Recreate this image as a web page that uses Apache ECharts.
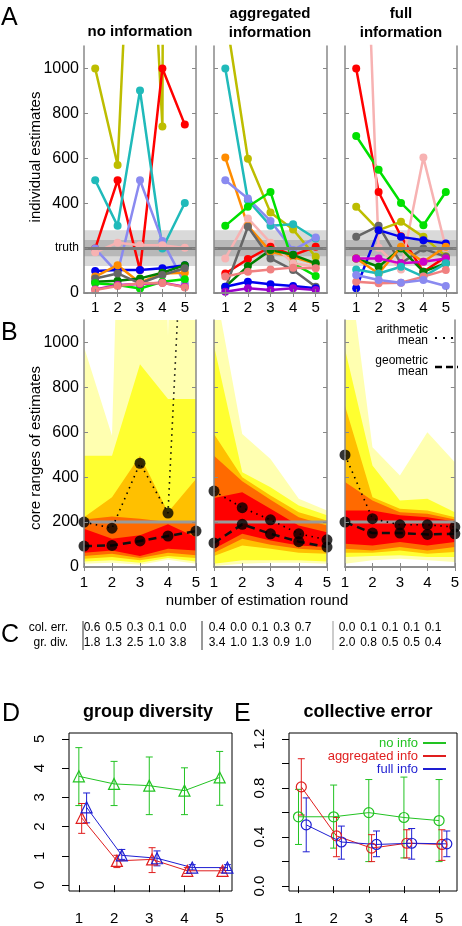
<!DOCTYPE html>
<html><head><meta charset="utf-8">
<script src="https://cdn.jsdelivr.net/npm/echarts@6/dist/echarts.min.js"></script>
<style>html,body{margin:0;padding:0;background:#fff}#c{width:462px;height:926px}</style>
</head><body><div id="c"></div><script>
// ---------------- DATA ----------------
const rounds = [1, 2, 3, 4, 5];
const truthValue = 200;
const truthBandOuter = [120, 280];
const truthBandInner = [164, 236];
const yTicksAB = [0, 200, 400, 600, 800, 1000];
const panelTitles = ['no information', 'aggregated\ninformation', 'full\ninformation'];

// Panel A: individual estimates per round
const estNoInfo = [
  [1000, 570, 2700, 742, 30000],
  [198, 502, 102, 1000, 750],
  [502, 299, 902, 198, 401],
  [198, 90, 502, 232, 43],
  [181, 224, 213, 213, 201],
  [98, 102, 102, 110, 124],
  [73, 124, 46, 87, 90],
  [50, 55, 65, 90, 124],
  [65, 87, 43, 80, 110],
  [43, 36, 20, 50, 61],
  [16, 36, 40, 46, 28],
  [13, 31, 43, 45, 25]
];
const estAggInfo = [
  [1250, 598, 358, 283, 161],
  [1000, 413, 299, 306, 243],
  [603, 299, 184, 160, 130],
  [502, 421, 321, 191, 247],
  [299, 384, 450, 132, 76],
  [154, 332, 224, 132, 117],
  [87, 151, 206, 169, 206],
  [28, 120, 191, 170, 132],
  [21, 295, 154, 102, 28],
  [73, 95, 105, 113, 110],
  [28, 50, 39, 31, 21],
  [6, 21, 13, 21, 13]
];
const estFullInfo = [
  [1000, 450, 253, 95, 161],
  [699, 549, 401, 302, 450],
  [2900, 201, 105, 603, 201],
  [384, 280, 317, 250, 164],
  [250, 299, 132, 198, 161],
  [21, 280, 250, 235, 221],
  [154, 117, 198, 95, 132],
  [154, 87, 206, 139, 206],
  [154, 154, 132, 139, 154],
  [105, 87, 117, 73, 132],
  [50, 43, 46, 73, 102],
  [80, 58, 46, 58, 31]
];

// Panel B: core ranges (outermost -> innermost), upper and lower bounds
const upperNo = [
  [980, 585, 5000, 1030, 5000],
  [496, 496, 903, 748, 748],
  [222, 311, 496, 244, 392],
  [212, 225, 215, 200, 200],
  [170, 126, 141, 190, 133]
];
const lowerNo = [
  [15, 19, 10, 32, 15],
  [25, 30, 19, 40, 25],
  [37, 44, 30, 49, 40],
  [49, 59, 40, 64, 52],
  [64, 74, 49, 81, 74]
];
const upperAgg = [
  [1275, 592, 481, 304, 252],
  [985, 422, 355, 274, 230],
  [592, 400, 318, 244, 207],
  [496, 382, 300, 222, 185],
  [307, 333, 259, 185, 155]
];
const lowerAgg = [
  [5, 15, 19, 19, 15],
  [15, 30, 30, 30, 25],
  [49, 96, 81, 64, 59],
  [64, 126, 99, 81, 74],
  [81, 148, 118, 96, 89]
];
const upperFull = [
  [1480, 533, 407, 600, 467],
  [970, 452, 296, 304, 244],
  [718, 311, 259, 252, 222],
  [378, 296, 244, 237, 212],
  [252, 252, 230, 222, 203]
];
const lowerFull = [
  [15, 30, 37, 30, 22],
  [44, 49, 52, 44, 44],
  [64, 64, 74, 59, 67],
  [81, 74, 89, 74, 89],
  [104, 96, 111, 96, 111]
];
const arithNo = [200, 173, 462, 240, 2800];
const geomNo = [93, 96, 116, 138, 160];
const arithAgg = [338, 264, 210, 148, 121];
const geomAgg = [107, 190, 148, 113, 89];
const arithFull = [499, 215, 188, 188, 178];
const geomFull = [200, 151, 151, 145, 148];

// Panel C
const colErr = ['0.6','0.5','0.3','0.1','0.0','0.4','0.0','0.1','0.3','0.7','0.0','0.1','0.1','0.1','0.1'];
const grDiv  = ['1.8','1.3','2.5','1.0','3.8','3.4','1.0','1.3','0.9','1.0','2.0','0.8','0.5','0.5','0.4'];

// Panel D: group diversity (mean, low, high)
const divNo = [3.72, 3.46, 3.40, 3.23, 3.68];
const divNoLo = [2.72, 2.72, 2.41, 2.41, 2.73];
const divNoHi = [4.70, 4.23, 4.38, 4.01, 4.57];
const divAgg = [2.30, 0.83, 0.88, 0.49, 0.49];
const divAggLo = [1.77, 0.60, 0.43, 0.40, 0.42];
const divAggHi = [2.79, 1.02, 1.28, 0.60, 0.58];
const divFull = [2.66, 1.02, 0.92, 0.60, 0.60];
const divFullLo = [2.13, 0.88, 0.66, 0.52, 0.50];
const divFullHi = [3.15, 1.22, 1.17, 0.70, 0.70];
const divTicks = [0, 1, 2, 3, 4, 5];

// Panel E: collective error
const errNo = [0.566, 0.566, 0.60, 0.56, 0.535];
const errNoLo = [0.34, 0.31, 0.20, 0.23, 0.20];
const errNoHi = [0.79, 0.825, 0.87, 0.89, 0.87];
const errAgg = [0.81, 0.41, 0.31, 0.35, 0.34];
const errAggLo = [0.58, 0.24, 0.20, 0.23, 0.21];
const errAggHi = [1.04, 0.56, 0.42, 0.46, 0.46];
const errFull = [0.50, 0.36, 0.34, 0.35, 0.345];
const errFullLo = [0.28, 0.22, 0.24, 0.22, 0.24];
const errFullHi = [0.72, 0.49, 0.45, 0.47, 0.45];
const errTicks = [0, 0.2, 0.4, 0.6, 0.8, 1.0, 1.2];
const errLabels = [0, 0.4, 0.8, 1.2];
const legendE = ['no info', 'aggregated info', 'full info'];

// ---------------- STYLE ----------------
const FONT = '"Liberation Sans", Arial, Helvetica, sans-serif';
const colsNo = ['#BDBD00','#FF0000','#20BABA','#8A8AF0','#F7B2B2','#0000F0','#FF8C00','#007F00','#666666','#00E000','#CC00CC','#F08080'];
const colsAgg = ['#BDBD00','#20BABA','#FF8C00','#8A8AF0','#00E000','#F7B2B2','#FF0000','#007F00','#666666','#F08080','#0000F0','#9900CC'];
const colsFull = ['#FF0000','#00E000','#F7B2B2','#BDBD00','#666666','#0000F0','#007F00','#FF8C00','#CC00CC','#20BABA','#F08080','#8A8AF0'];
const bandCols = ['#FFFFB0','#FFFF30','#FFC000','#FF6A00','#FF0000'];
const cGreen = '#22C322', cRed = '#E01E1E', cBlue = '#1E1ED2';
const AX = '#888';
const yMaxAB = 1100;

const grids = [
  {left:84, top:46, width:112, height:247},
  {left:214, top:46, width:113, height:247},
  {left:345, top:46, width:112, height:247},
  {left:84, top:320, width:112, height:247},
  {left:214, top:320, width:113, height:247},
  {left:345, top:320, width:112, height:247},
  {left:69, top:733, width:163, height:159},
  {left:289, top:733, width:168, height:158}
];

const xAxes = [], yAxes = [];
for (let g = 0; g < 6; g++) {
  const isA = g < 3;
  const xmin = isA ? 0.5 : 1, xmax = isA ? 5.5 : 5;
  const base = {gridIndex:g, type:'value', min:xmin, max:xmax, z:10,
    axisLine:{show:true, lineStyle:{color:AX, width:1.5}},
    axisTick:{show:true, inside:true, length:4, lineStyle:{color:AX}, customValues:rounds},
    splitLine:{show:false}};
  xAxes.push(Object.assign({}, base, {position:'bottom',
    axisLabel:{show:true, customValues:rounds, fontSize:15, color:'#000', fontFamily:FONT, margin:isA?7:8}}));
  xAxes.push(Object.assign({}, base, {position:'top', axisLabel:{show:false}}));
  const ybase = {gridIndex:g, type:'value', min:0, max:yMaxAB, z:10,
    axisLine:{show:true, lineStyle:{color:AX, width:1.5}},
    axisTick:{show:true, inside:true, length:4, lineStyle:{color:AX}, customValues:yTicksAB},
    splitLine:{show:false}};
  const showLab = (g === 0 || g === 3);
  yAxes.push(Object.assign({}, ybase, {position:'left',
    axisLabel:{show:showLab, customValues:yTicksAB, fontSize:16, color:'#000', fontFamily:FONT, margin:5,
      formatter: v => (isA && v === truthValue) ? '{t|truth}' : String(v),
      rich:{t:{fontSize:12, fontFamily:FONT, color:'#000'}}}}));
  yAxes.push(Object.assign({}, ybase, {position:'right', axisLabel:{show:false}}));
}
// D and E axes (R style: outward ticks)
[[6, 0.72, 5.35, -0.2, 5.2, divTicks, divTicks, v => String(v)],
 [7, 0.73, 5.51, -0.04, 1.25, errTicks, errLabels, v => v.toFixed(1)]].forEach(([g, x0, x1, y0, y1, yt, yl, fmt]) => {
  xAxes.push({gridIndex:g, type:'value', min:x0, max:x1, position:'bottom',
    axisLine:{show:false},
    axisTick:{show:true, inside:false, length:7, lineStyle:{color:'#000'}, customValues:rounds},
    axisLabel:{show:true, customValues:rounds, fontSize:15, color:'#000', fontFamily:FONT, margin:20},
    splitLine:{show:false}});
  yAxes.push({gridIndex:g, type:'value', min:y0, max:y1, position:'left',
    axisLine:{show:false},
    axisTick:{show:true, inside:false, length:7, lineStyle:{color:'#000'}, customValues:yt},
    axisLabel:{show:true, customValues:yl, rotate:90, fontSize:15, color:'#000', fontFamily:FONT, margin:22, formatter:fmt},
    splitLine:{show:false}});
});

const series = [];
// ---- Panel A ----
[[estNoInfo, colsNo], [estAggInfo, colsAgg], [estFullInfo, colsFull]].forEach(([est, cols], g) => {
  series.push({type:'line', xAxisIndex:2*g, yAxisIndex:2*g, data:[], silent:true, z:1,
    markArea:{silent:true, data:[
      [{yAxis:truthBandOuter[0], itemStyle:{color:'#D9D9D9'}}, {yAxis:truthBandOuter[1]}],
      [{yAxis:truthBandInner[0], itemStyle:{color:'#B8B8B8'}}, {yAxis:truthBandInner[1]}]
    ]},
    markLine:{silent:true, symbol:'none', label:{show:false}, lineStyle:{color:'#7A7A7A', width:3, type:'solid'},
      data:[{yAxis:truthValue}]}});
  est.forEach((vals, k) => {
    series.push({type:'line', xAxisIndex:2*g, yAxisIndex:2*g, silent:true, z:3,
      data: rounds.map((r, i) => [r, vals[i]]),
      symbol:'circle', symbolSize:8, showSymbol:true,
      lineStyle:{width:2.5, color:cols[k]}, itemStyle:{color:cols[k]}});
  });
});

// ---- Panel B ----
function areaS(vals, color, ax) {
  return {type:'line', xAxisIndex:ax, yAxisIndex:ax, silent:true, z:2, showSymbol:false, symbol:'none',
    data: rounds.map((r, i) => [r, vals[i]]),
    lineStyle:{width:0, opacity:0}, areaStyle:{color:color, opacity:1, origin:'start'}};
}
[[upperNo, lowerNo, arithNo, geomNo], [upperAgg, lowerAgg, arithAgg, geomAgg], [upperFull, lowerFull, arithFull, geomFull]]
.forEach(([up, lo, ar, ge], j) => {
  const ax = 2 * (3 + j);
  up.forEach((v, k) => series.push(areaS(v, bandCols[k], ax)));
  for (let k = lo.length - 1; k >= 0; k--) series.push(areaS(lo[k], k > 0 ? bandCols[k - 1] : '#FFFFFF', ax));
  series.push({type:'line', xAxisIndex:ax, yAxisIndex:ax, silent:true, z:3, symbol:'none',
    data: rounds.map(r => [r, truthValue]), lineStyle:{color:'#9A9A9A', width:3}});
  series.push({type:'line', xAxisIndex:ax, yAxisIndex:ax, silent:true, z:4, symbol:'none',
    data: rounds.map((r, i) => [r, ar[i]]), lineStyle:{color:'#000', width:1.6, type:[1.5, 4.5]}});
  series.push({type:'line', xAxisIndex:ax, yAxisIndex:ax, silent:true, z:4, symbol:'none',
    data: rounds.map((r, i) => [r, ge[i]]), lineStyle:{color:'#111', width:2.5, type:[8, 5]}});
  series.push({type:'scatter', xAxisIndex:ax, yAxisIndex:ax, silent:true, z:5, clip:false, symbolSize:11,
    itemStyle:{color:'#000'},
    data: rounds.map((r, i) => [r, ar[i]]).concat(rounds.map((r, i) => [r, ge[i]])).filter(p => p[1] <= yMaxAB)});
});

// ---- Panels D & E ----
function errSeries(vals, lo, hi, color, ax, off) {
  return {type:'custom', xAxisIndex:ax, yAxisIndex:ax, silent:true, z:3,
    data: rounds.map((r, i) => [r + off, lo[i], hi[i]]), encode:{x:0, y:[1, 2]},
    renderItem: (params, api) => {
      const x = api.value(0);
      const a = api.coord([x, api.value(1)]), b = api.coord([x, api.value(2)]);
      const w = 3.5, st = {stroke:color, lineWidth:1};
      return {type:'group', children:[
        {type:'line', shape:{x1:a[0], y1:a[1], x2:b[0], y2:b[1]}, style:st},
        {type:'line', shape:{x1:a[0]-w, y1:a[1], x2:a[0]+w, y2:a[1]}, style:st},
        {type:'line', shape:{x1:b[0]-w, y1:b[1], x2:b[0]+w, y2:b[1]}, style:st}]};
    }};
}
function ptSeries(vals, color, ax, off, sym, size) {
  return {type:'line', xAxisIndex:ax, yAxisIndex:ax, silent:true, z:4,
    data: rounds.map((r, i) => [r + off, vals[i]]), symbol:sym, symbolSize:size, showSymbol:true,
    lineStyle:{color:color, width:1}, itemStyle:{color:'rgba(255,255,255,0)', borderColor:color, borderWidth:1.2}};
}
const offs = [0, 0.08, 0.22];
[[divNo, divNoLo, divNoHi, cGreen], [divAgg, divAggLo, divAggHi, cRed], [divFull, divFullLo, divFullHi, cBlue]]
.forEach(([v, lo, hi, c], k) => {
  series.push(errSeries(v, lo, hi, c, 12, offs[k]));
  series.push(ptSeries(v, c, 12, offs[k], 'triangle', 11));
});
[[errNo, errNoLo, errNoHi, cGreen], [errAgg, errAggLo, errAggHi, cRed], [errFull, errFullLo, errFullHi, cBlue]]
.forEach(([v, lo, hi, c], k) => {
  series.push(errSeries(v, lo, hi, c, 13, offs[k]));
  series.push(ptSeries(v, c, 13, offs[k], 'circle', 10));
});

// ---------------- TEXT ----------------
function txt(text, x, y, size, o) {
  o = o || {};
  return {type:'text', x:x, y:y, rotation:o.rot || 0, z:100, silent:true,
    style:{text:text, fontSize:size, fontFamily:FONT, fontWeight:o.bold ? 'bold' : 'normal', fill:o.color || '#000',
      align:o.align || 'center', verticalAlign:o.va || 'middle', lineHeight:o.lh || Math.round(size * 1.25)}};
}
const graphics = [];
graphics.push(txt('A', 1, 18, 25, {align:'left'}));
graphics.push(txt('B', 1, 333, 25, {align:'left'}));
graphics.push(txt('C', 1, 635, 25, {align:'left'}));
graphics.push(txt('D', 2, 714, 25, {align:'left'}));
graphics.push(txt('E', 234, 714, 25, {align:'left'}));
graphics.push(txt(panelTitles[0], 140, 32, 15, {bold:true}));
graphics.push(txt(panelTitles[1], 270, 23, 15, {bold:true, lh:19}));
graphics.push(txt(panelTitles[2], 401, 23, 15, {bold:true, lh:19}));
graphics.push(txt('individual estimates', 36, 157, 15, {rot:Math.PI/2}));
graphics.push(txt('core ranges of estimates', 36, 448, 15, {rot:Math.PI/2}));
graphics.push(txt('number of estimation round', 257, 601, 15));
graphics.push(txt('group diversity', 148, 712, 18, {bold:true}));
graphics.push(txt('collective error', 368, 712, 18, {bold:true}));
// B legend
graphics.push(txt('arithmetic\nmean', 428, 335, 12, {align:'right', lh:11}));
graphics.push(txt('geometric\nmean', 428, 366, 12, {align:'right', lh:11}));
graphics.push({type:'line', z:100, silent:true, shape:{x1:435, y1:338, x2:458, y2:338}, style:{stroke:'#000', lineWidth:2, lineDash:[2, 6]}});
graphics.push({type:'line', z:100, silent:true, shape:{x1:435, y1:367, x2:458, y2:367}, style:{stroke:'#000', lineWidth:2.5, lineDash:[7, 4]}});
// C table
graphics.push(txt('col. err.', 68, 628, 12, {align:'right'}));
graphics.push(txt('gr. div.', 68, 643, 12, {align:'right'}));
const groupStart = [92, 217, 347];
colErr.forEach((t, i) => {
  const x = groupStart[Math.floor(i / 5)] + (i % 5) * 21.5;
  graphics.push(txt(t, x, 628, 12));
  graphics.push(txt(grDiv[i], x, 643, 12));
});
[[83, '#333'], [202, '#333'], [333, '#999']].forEach(([x, c]) => {
  graphics.push({type:'line', z:100, silent:true, shape:{x1:x, y1:621, x2:x, y2:650}, style:{stroke:c, lineWidth:1}});
});
// E legend
[[cGreen, 743], [cRed, 756], [cBlue, 769]].forEach(([c, y], k) => {
  graphics.push(txt(legendE[k], 418, y, 13, {align:'right', color:c}));
  graphics.push({type:'line', z:100, silent:true, shape:{x1:423, y1:y, x2:446, y2:y}, style:{stroke:c, lineWidth:2}});
});

const chart = echarts.init(document.getElementById('c'), null, {renderer:'canvas'});
chart.setOption({
  animation:false,
  backgroundColor:'#fff',
  grid: grids.map((g, i) => Object.assign({show:i >= 6, borderColor:'#000', borderWidth:1, backgroundColor:'transparent'}, g)),
  xAxis: xAxes,
  yAxis: yAxes,
  series: series,
  graphic: graphics
});
</script></body></html>
